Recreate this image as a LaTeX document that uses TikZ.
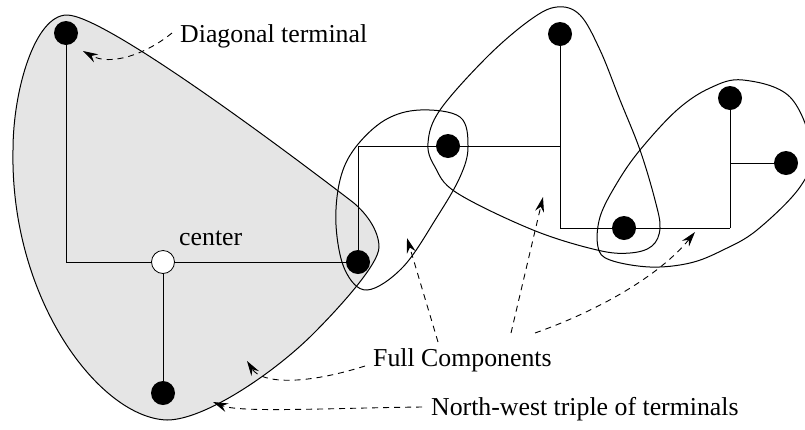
\documentclass[tikz,border=0pt]{standalone}
\usepackage{fontspec}
\setmainfont{Liberation Serif}
\usetikzlibrary{arrows.meta}
\begin{document}
\begin{tikzpicture}[x=1pt,y=-1pt,
  terminal/.style={circle,fill=black,inner sep=0pt,minimum size=24pt},
  hub/.style={circle,draw=black,fill=white,line width=0.8pt,inner sep=0pt,minimum size=23pt},
  edge/.style={line width=0.9pt},
  region/.style={line width=1pt},
  callout/.style={line width=0.9pt,dash pattern=on 6pt off 5pt,
    -{Stealth[length=15pt,width=9pt,inset=5pt]}},
  label/.style={inner sep=0pt,anchor=base west,font=\fontsize{25.8}{30}\selectfont}
]
\useasboundingbox (0,0) rectangle (805,429);

% shaded full component: north-west triple with its center
\filldraw[region,fill=black!10]
  (67,15) .. controls (105,15) and (290,154) .. (350,200)
          .. controls (365,211) and (379,230) .. (379,247)
          .. controls (379,265) and (335,312) .. (313,334)
          .. controls (275,372) and (205,420) .. (167,420)
          .. controls (100,418) and (10,300) .. (13,150)
          .. controls (13,90) and (35,15) .. (67,15) -- cycle;

% terminals and the Steiner center
\node[terminal] (t1) at (66,33) {};
\node[hub]      (c)  at (163,262) {};
\node[terminal] (t2) at (163,393) {};
\node[terminal] (t3) at (358,262) {};
\node[terminal] (t4) at (448,146) {};
\node[terminal] (t5) at (560,34) {};
\node[terminal] (t6) at (624,228) {};
\node[terminal] (t7) at (730,98) {};
\node[terminal] (t8) at (786,163) {};
\coordinate (j3) at (560,146);
\coordinate (j5) at (730,228);
\coordinate (j6) at (730,163);

% tree edges
\draw[edge] (t1) |- (c);
\draw[edge] (c) -- (t3);
\draw[edge] (c) -- (t2);
\draw[edge] (t3) |- (t4);
\draw[edge] (t4) -- (j3);
\draw[edge] (t5) |- (t6);
\draw[edge] (t6) -- (j5);
\draw[edge] (t7) -- (j5);
\draw[edge] (j6) -- (t8);

% remaining full components
\draw[region] plot[smooth cycle,tension=0.6] coordinates {
  (420,110) (460,117) (468,147) (460,177) (437,217) (403,267) (367,290)
  (345,270) (336,225) (340,180) (355,148) (385,120)};
\draw[region] plot[smooth cycle,tension=0.6] coordinates {
  (557,7) (580,15) (600,50) (620,100) (640,150) (655,200) (660,228)
  (652,246) (630,253) (597,250) (533,230) (457,193) (435,167) (428,143)
  (440,110) (487,57) (530,20)};
\draw[region] plot[smooth cycle,tension=0.6] coordinates {
  (743,80) (790,97) (812,150) (800,187) (757,230) (723,250) (690,263)
  (650,267) (610,260) (598,247) (600,217) (617,183) (640,150) (677,110)
  (710,88)};

% labels
\node[label] (ldiag) at (180,42) {Diagonal terminal};
\node[label] (lcent) at (179,245) {center};
\node[label] (lfull) at (373,366) {Full Components};
\node[label] (lnw)   at (431,415) {North-west triple of terminals};

% callout arrows
\coordinate (d0) at (172,33);   \coordinate (d1) at (83,51);
\coordinate (f0) at (365,366);  \coordinate (f1) at (247,361);
\coordinate (g0) at (438,342);  \coordinate (g1) at (407,238);
\coordinate (h0) at (511,333);  \coordinate (h1) at (543,197);
\coordinate (k0) at (535,333);  \coordinate (k1) at (695,232);
\coordinate (n0) at (422,407);  \coordinate (n1) at (213,402);
\draw[callout] (d0) .. controls (145,55) and (110,66) .. (d1);
\draw[callout] (f0) .. controls (305,385) and (262,384) .. (f1);
\draw[callout] (g0) -- (g1);
\draw[callout] (h0) -- (h1);
\draw[callout] (k0) .. controls (600,310) and (660,275) .. (k1);
\draw[callout] (n0) .. controls (330,408) and (240,413) .. (n1);
\end{tikzpicture}
\end{document}
